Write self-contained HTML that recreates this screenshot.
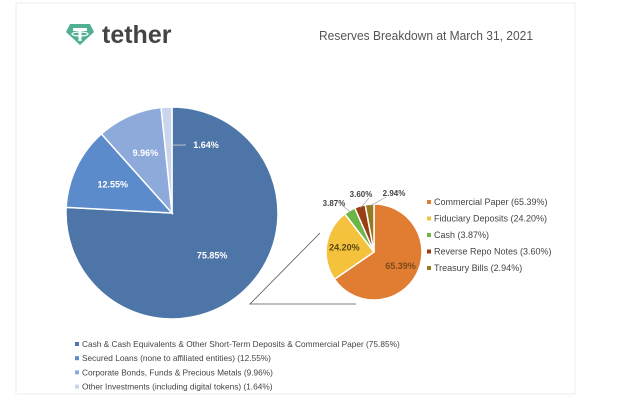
<!DOCTYPE html>
<html><head><meta charset="utf-8"><style>
body{margin:0;background:#fff;}
svg text{font-family:"Liberation Sans",sans-serif;}
</style></head><body>
<svg width="622" height="414" viewBox="0 0 622 414">
<rect x="16" y="3" width="559" height="391" fill="#fff" stroke="#eeeeee"/>
<g>
<path d="M70 24 L90 24 L94 32 L80 45 L66 32 Z" fill="#50af95"/>
<rect x="73" y="28" width="14" height="3" fill="#fff"/>
<rect x="78.5" y="28" width="3" height="13" fill="#fff"/>
<ellipse cx="80" cy="34" rx="8" ry="2" fill="none" stroke="#fff" stroke-width="1.2"/>
<text x="102" y="43" font-size="25" font-weight="bold" fill="#444">tether</text>
</g>
<text x="319" y="40" font-size="13" fill="#555" textLength="214" lengthAdjust="spacingAndGlyphs">Reserves Breakdown at March 31, 2021</text>
<g id="main"></g>
<g id="sub"></g>
<polyline points="320,233 250,304 356,304" fill="none" stroke="#555" stroke-width="0.8"/>
<g id="labels" font-size="9" font-weight="bold"></g>
<g id="legR" font-size="9" fill="#444"></g>
<g id="legB" font-size="8.3" fill="#444"></g>
</svg>
<script>
const mainNames=["Cash & Cash Equivalents & Other Short-Term Deposits & Commercial Paper","Secured Loans (none to affiliated entities)","Corporate Bonds, Funds & Precious Metals","Other Investments (including digital tokens)"];
const mainValues=[75.85,12.55,9.96,1.64];
const mainColors=["#4e75a7","#5b8bcb","#8eaadb","#c8d5ec"];
const subNames=["Commercial Paper","Fiduciary Deposits","Cash","Reverse Repo Notes","Treasury Bills"];
const subValues=[65.39,24.20,3.87,3.60,2.94];
const subColors=["#e07d32","#f5c23e","#6cb648","#9a3f13","#957a20"];
const NS="http://www.w3.org/2000/svg";
function mk(t,a,p){const e=document.createElementNS(NS,t);for(const k in a)e.setAttribute(k,a[k]);p.appendChild(e);return e;}
function pt(cx,cy,r,f){const a=f*2*Math.PI;return [cx+r*Math.sin(a),cy-r*Math.cos(a)];}
function pie(g,cx,cy,r,vals,cols,prefix){
 const tot=vals.reduce((a,b)=>a+b,0);let c=0;const mids=[];
 vals.forEach((v,i)=>{const s=c/tot,e=(c+v)/tot;c+=v;
  const p1=pt(cx,cy,r,s),p2=pt(cx,cy,r,e);
  const el=mk('path',{d:`M${cx},${cy}L${p1[0]},${p1[1]}A${r},${r} 0 ${e-s>0.5?1:0} 1 ${p2[0]},${p2[1]}Z`,fill:cols[i],stroke:'#fff','stroke-width':1.5},g);
  
  
  mids.push((s+e)/2);});
 return mids;}
const mm=pie(document.getElementById('main'),172,213,106,mainValues,mainColors,'main');
const sm=pie(document.getElementById('sub'),374,252,48,subValues,subColors,'sub');
const L=document.getElementById('labels');
function lab(x,y,t,fill){const e=mk('text',{x:x,y:y,fill:fill,'text-anchor':'middle'},L);e.textContent=t;
 
 }
[[0.55],[0.62],[0.62]].forEach((f,i)=>{const p=pt(172,213,106*f[0],mm[i]);lab(p[0],p[1]+3,mainValues[i].toFixed(2)+'%','#fff');});
{const p=pt(172,213,100,mm[3]);mk('line',{x1:p[0],y1:p[1]+32,x2:186,y2:145,stroke:'#ddd','stroke-width':0.7},L);lab(206,148,mainValues[3].toFixed(2)+'%','#fff');}
{const p=pt(374,252,30,sm[0]);lab(p[0],p[1]+3,subValues[0].toFixed(2)+'%','#7a4a1a');}
{const p=pt(374,252,30,sm[1]);lab(p[0],p[1]+3,subValues[1].toFixed(2)+'%','#5a4a10');}
[[334,206],[361,197],[394,196]].forEach((q,k)=>{const i=k+2;const p=pt(374,252,46,sm[i]);
 mk('line',{x1:p[0],y1:p[1],x2:q[0]+(k==2?-8:8),y2:q[1]+(k==0?-1:1),stroke:'#999','stroke-width':0.6},L);
 const e=mk('text',{x:q[0],y:q[1],fill:'#444','text-anchor':'middle','font-size':8},L);e.textContent=subValues[i].toFixed(2)+'%';
 
 });
const R=document.getElementById('legR');
subNames.forEach((n,i)=>{const y=205+i*16.5;mk('rect',{x:427,y:y-5,width:4,height:4,fill:subColors[i]},R);
 const t=mk('text',{x:434,y:y},R);t.textContent=n+' ('+subValues[i].toFixed(2)+'%)';
 
 });
const B=document.getElementById('legB');
mainNames.forEach((n,i)=>{const y=347+i*14.2;mk('rect',{x:75,y:y-5,width:4,height:4,fill:mainColors[i]},B);
 const t=mk('text',{x:82,y:y},B);t.textContent=n+' ('+mainValues[i].toFixed(2)+'%)';
 
 });
</script>
</body></html>
